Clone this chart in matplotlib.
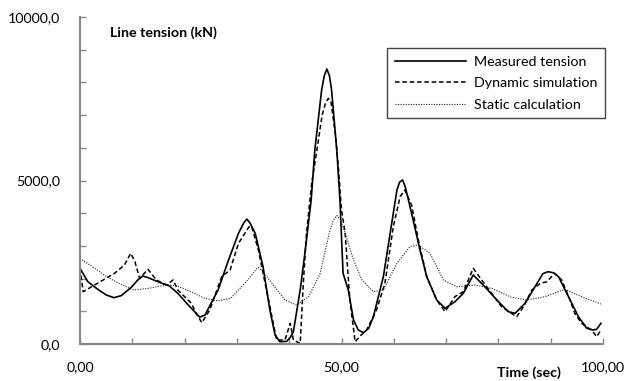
import matplotlib
matplotlib.use('Agg')
import matplotlib.pyplot as plt
from matplotlib.ticker import MultipleLocator, FuncFormatter

plt.rcParams['font.family'] = ['Lato', 'DejaVu Sans']

# measured line tension (kN) vs time (sec)
t_meas = [0, 1.5, 3.4, 5, 6.5, 7.9, 9.8, 11, 12, 13, 14.9, 17.1, 18.7, 20.7, 22.9, 23.9, 24.8,
          26.4, 28.4, 30.3, 31.3, 31.9, 32.5, 33.5, 35, 36.3, 37.3, 38.2, 39.5, 40.2, 40.8, 42.1,
          43, 44.2, 44.9, 46.2, 46.7, 47.2, 47.7, 48.1, 49.1, 49.7, 50.3, 51.3, 52.3, 53.2, 54.2,
          55.2, 56.1, 58, 59.6, 60.6, 61.1, 61.7, 62.2, 62.8, 63.7, 65, 66.3, 68.2, 69.8, 71.7,
          73.3, 75.2, 77.4, 79.7, 81.9, 83.2, 85.1, 87, 88.5, 89.5, 90.5, 91.5, 93.4, 95.3, 96.9,
          98.1, 98.8, 99.6]
f_meas = [2315, 1905, 1672, 1500, 1416, 1480, 1733, 1950, 2080, 2030, 1905, 1774, 1550, 1193, 820, 887, 1162,
          1651, 2569, 3385, 3700, 3820, 3700, 3385, 2364, 1040, 275, 70, 80, 200, 376, 1651,
          2773, 4403, 5932, 7767, 8200, 8410, 8200, 7767, 5932, 4403, 2162, 1651, 734, 430, 346,
          480, 835, 2059, 3690, 4709, 4950, 5015, 4800, 4403, 3792, 2875, 2059, 1346, 1091, 1294,
          1550, 2110, 1753, 1346, 988, 939, 1245, 1753, 2150, 2211, 2180, 2059, 1447, 835, 480,
          428, 450, 633]

# dynamic simulation
t_dyn = [0, 0.6, 2.8, 6.6, 8.5, 9.7, 10.5, 11.4, 13, 14.6, 16.5, 17.8, 18.7, 20, 21.3, 22.2,
         23.3, 24.8, 27.1, 28.7, 30.3, 32.3, 32.8, 34.1, 35.4, 36.7, 37.6, 39.2, 40.2, 40.8, 42.1,
         42.7, 43.3, 44.3, 45.3, 46.3, 47, 47.5, 48, 48.8, 49.4, 50, 50.7, 51.6, 52.6, 53.6, 54.8,
         56.7, 58.3, 59.9, 61.2, 62.1, 63.4, 64.7, 66.3, 68.2, 69.8, 71.7, 73.3, 75.2, 76.8, 78.7,
         80.6, 83.5, 84.8, 86.4, 88, 89.2, 90.8, 92.1, 93.7, 94.6, 95.9, 97.8, 98.8, 99.6]
f_dyn = [2315, 1600, 1804, 2162, 2416, 2773, 2518, 2008, 2284, 1957, 1804, 1957, 1651, 1447, 1245, 939,
         651, 1040, 2059, 2263, 3079, 3580, 3608, 2875, 1856, 835, 122, 122, 633, 122, 20,
         1856, 3385, 4914, 5932, 7000, 7400, 7513, 7400, 6443, 5422, 4098, 3385, 1346, 70, 250, 428,
         1040, 1856, 3587, 4505, 4709, 4250, 3180, 2059, 1346, 988, 1450, 1600, 2315, 1957, 1550,
         1141, 835, 1141, 1651, 1856, 1900, 2162, 1957, 1346, 939, 633, 428, 224, 428]

# static calculation
t_stat = [0, 2.5, 5.1, 7.5, 10.2, 13, 16.6, 18.5, 20.4, 23.9, 26.4, 28.8, 30.3, 32.3, 33.5, 34.1,
          34.8, 36.7, 39.2, 41.4, 43.7, 45.9, 47.8, 48.5, 49.1, 49.8, 50.7, 52.3, 53.9, 56.1, 58,
          60.6, 63.1, 64.7, 66.9, 69.5, 72, 75.5, 78.7, 82.5, 85.4, 88.9, 92.7, 95.9, 99.6]
f_stat = [2620, 2350, 2059, 1850, 1651, 1700, 1804, 1780, 1651, 1397, 1320, 1400, 1651, 2000, 2250, 2340,
          2250, 1856, 1346, 1193, 1447, 2150, 3486, 3800, 3930, 3800, 3385, 2569, 1957, 1600, 1650,
          2468, 2977, 3027, 2773, 1957, 1753, 1804, 1703, 1427, 1346, 1447, 1672, 1447, 1223]

fig = plt.figure(figsize=(6.26, 3.81), dpi=100)
ax = fig.add_axes([80 / 626, 37 / 381, 523 / 626, 327 / 381])

ax.plot(t_meas, f_meas, color='black', lw=1.2, label='Measured tension')
ax.plot(t_dyn, f_dyn, color='black', lw=1.1, dashes=(3, 1.8), label='Dynamic simulation')
ax.plot(t_stat, f_stat, color='#222222', lw=0.8, dashes=(1, 1.3), label='Static calculation')

ax.set_xlim(0, 100)
ax.set_ylim(0, 10000)
ax.xaxis.set_major_locator(MultipleLocator(10))
ax.yaxis.set_major_locator(MultipleLocator(1000))
ax.xaxis.set_major_formatter(FuncFormatter(lambda v, p: f'{v:.2f}'.replace('.', ',') if v % 50 == 0 else ''))
ax.yaxis.set_major_formatter(FuncFormatter(lambda v, p: f'{v:.1f}'.replace('.', ',') if v % 5000 == 0 else ''))

for s in ['top', 'right']:
    ax.spines[s].set_visible(False)
for s in ['left', 'bottom']:
    ax.spines[s].set_color('#888888')
    ax.spines[s].set_linewidth(1.5)
ax.tick_params(direction='in', length=4, width=1, color='#888888', labelsize=10.3)
ax.tick_params(axis='x', pad=12)
ax.tick_params(axis='y', pad=14)

fig.text(110 / 626, 1 - 33 / 381, 'Line tension (kN)', fontsize=10.3, fontweight='bold', va='center')
fig.text(497 / 626, 1 - 373 / 381, 'Time (sec)', fontsize=10.3, fontweight='bold', va='center')

leg = ax.legend(loc='upper left', bbox_to_anchor=(387 / 626, 1 - 48 / 381),
                bbox_transform=fig.transFigure, fancybox=False, framealpha=1,
                edgecolor='#444444', fontsize=10.3, handlelength=5.0, handletextpad=0.5,
                labelspacing=0.65, borderpad=0.55, borderaxespad=0)
leg.get_frame().set_linewidth(1.0)

fig.savefig('out.png', dpi=100)
